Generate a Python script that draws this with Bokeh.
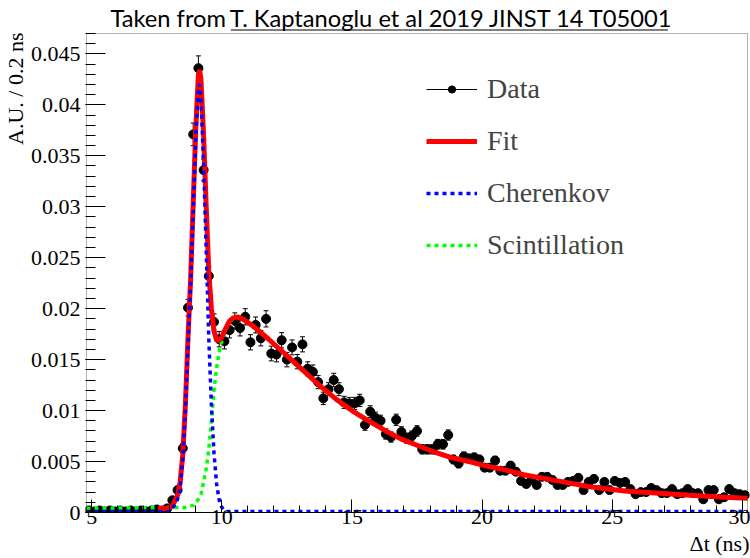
import numpy as np
from bokeh.plotting import figure
from bokeh.models import (ColumnDataSource, Whisker, TeeHead, Legend, LegendItem,
                          Label, BoxAnnotation, FixedTicker, Range1d, Title)
from bokeh.embed import file_html
from bokeh.resources import INLINE

# ---- histogram: time residuals, 0.2 ns bins starting at 4.8 ns ----
bin_start = 4.8
bin_width = 0.2
data_y = [
    0.0002, 0.0001, 0.0002, 0.0001, 0.0002, 0.0001, 0.0002, 0.0001,
    0.0002, 0.0001, 0.0002, 0.0001, 0.0002, 0.0003, 0.0002, 0.0004,
    0.0012, 0.0022, 0.0063, 0.0201, 0.0371, 0.0436, 0.0336, 0.0232,
    0.0187, 0.0170, 0.0168, 0.0179, 0.0188, 0.0181, 0.0192, 0.0167,
    0.0184, 0.0171, 0.0190, 0.0156, 0.0155, 0.0169, 0.0150, 0.0162,
    0.0148, 0.0165, 0.0141, 0.0138, 0.0128, 0.0112, 0.0121, 0.0130,
    0.0121, 0.0108, 0.0107, 0.0107, 0.0110, 0.0086, 0.0099, 0.0093,
    0.0090, 0.0077, 0.0074, 0.0091, 0.0079, 0.0073, 0.0075, 0.0080,
    0.0062, 0.0062, 0.0062, 0.0067, 0.0067, 0.0076, 0.0052, 0.0048,
    0.0055, 0.0053, 0.0054, 0.0052, 0.0044, 0.0044, 0.0051, 0.0041,
    0.0041, 0.0046, 0.0040, 0.0031, 0.0028, 0.0032, 0.0027, 0.0035,
    0.0035, 0.0032, 0.0027, 0.0027, 0.0030, 0.0031, 0.0034, 0.0022,
    0.0030, 0.0033, 0.0022, 0.0030, 0.0022, 0.0031, 0.0029, 0.0030,
    0.0023, 0.0018, 0.0020, 0.0020, 0.0024, 0.0022, 0.0019, 0.0019,
    0.0023, 0.0018, 0.0019, 0.0023, 0.0019, 0.0019, 0.0013, 0.0022,
    0.0022, 0.0013, 0.0015, 0.0023, 0.0019, 0.0018, 0.0017,
]
# effective number of entries behind the normalised histogram (Poisson errors)
n_entries = 30000

# ---- fit components ----
fit_x = [7.55, 7.9, 8.1, 8.2, 8.3, 8.4, 8.5, 8.6, 8.7, 8.8, 8.9, 9.0, 9.1,
         9.15, 9.2, 9.3, 9.4, 9.5, 9.6, 9.7, 9.8, 9.9, 10.0, 10.1, 10.2,
         10.3, 10.45, 10.6, 10.8, 11.2, 11.8, 12.5, 13.1, 13.7, 14.4, 15.0,
         15.7, 16.3, 16.9, 17.6, 18.2, 18.8, 19.5, 20.1, 20.7, 21.6, 22.9,
         24.2, 25.5, 26.8, 28.0, 29.3, 30.2]
fit_y = [0.0004, 0.0004, 0.0006, 0.0012, 0.0017, 0.0030, 0.0057, 0.0106,
         0.0171, 0.0229, 0.0303, 0.0378, 0.0430, 0.0434, 0.0424, 0.0370,
         0.0300, 0.0236, 0.0200, 0.0178, 0.0169, 0.0169, 0.0172, 0.0178,
         0.0183, 0.0188, 0.0191, 0.0192, 0.0190, 0.0183, 0.0170, 0.0154,
         0.0140, 0.0126, 0.0111, 0.0100, 0.0089, 0.0080, 0.0072, 0.0065,
         0.0059, 0.0054, 0.0050, 0.0046, 0.0043, 0.0037, 0.0031, 0.0025,
         0.0021, 0.0019, 0.0017, 0.0015, 0.0014]

cher_x = [4.8, 8.0, 8.2, 8.3, 8.4, 8.5, 8.6, 8.7, 8.8, 8.9, 9.0, 9.1, 9.15,
          9.2, 9.3, 9.4, 9.5, 9.6, 9.7, 9.8, 9.9, 10.0, 10.1, 10.2, 30.2]
cher_y = [0.0001, 0.0001, 0.0008, 0.0013, 0.0025, 0.0052, 0.0100, 0.0165,
          0.0222, 0.0295, 0.0368, 0.0418, 0.0420, 0.0405, 0.0342, 0.0258,
          0.0170, 0.0105, 0.0058, 0.0028, 0.0012, 0.0005, 0.0002, 0.0001,
          0.0001]

scint_x = [4.8, 8.6, 8.9, 9.1, 9.2, 9.3, 9.4, 9.5, 9.6, 9.7, 9.8, 9.9, 10.0,
           10.1, 10.2, 10.3, 10.45, 10.6, 10.8, 11.2, 11.8, 12.5, 13.1,
           13.7, 14.4, 15.0, 15.7, 16.3, 16.9, 17.6, 18.2, 18.8, 19.5, 20.1,
           20.7, 21.6, 22.9, 24.2, 25.5, 26.8, 28.0, 29.3, 30.2]
scint_y = [0.0004, 0.0005, 0.0007, 0.0013, 0.0018, 0.0030, 0.0043, 0.0062,
           0.0090, 0.0120, 0.0142, 0.0158, 0.0168, 0.0176, 0.0182, 0.0187,
           0.0191, 0.0192, 0.0190, 0.0183, 0.0170, 0.0154, 0.0140, 0.0126,
           0.0111, 0.0100, 0.0089, 0.0080, 0.0072, 0.0065, 0.0059, 0.0054,
           0.0050, 0.0046, 0.0043, 0.0037, 0.0031, 0.0025, 0.0021, 0.0019,
           0.0017, 0.0015, 0.0014]

x_ticks = [5, 10, 15, 20, 25, 30]
y_ticks = [0, 0.005, 0.01, 0.015, 0.02, 0.025, 0.03, 0.035, 0.04, 0.045]
y_tick_labels = ["0", "0.005", "0.01", "0.015", "0.02", "0.025", "0.03",
                 "0.035", "0.04", "0.045"]

SERIF = "Liberation Serif"
SANS = "Lato"

# histogram frame [x0, x1] x [0, y1]; the plotting area also reaches up to the
# top of the canvas so the source line above the box can be drawn in it
x0, x1, y1 = 4.8, 30.2, 0.047
PX_X = 26.14            # pixels per ns
PX_Y = 479 / y1         # pixels per A.U.
FRAME_H = 512           # canvas rows covered by the plotting area

centers = bin_start + bin_width * (np.arange(len(data_y)) + 0.5)
vals = np.array(data_y)
errs = np.sqrt(vals / n_entries)
src = ColumnDataSource(dict(x=centers, y=vals, lo=vals - errs, hi=vals + errs))

p = figure(width=750, height=558,
           x_range=Range1d(x0 - 1 / PX_X, x1 + 2 / PX_X),
           y_range=Range1d(0, FRAME_H / PX_Y), output_backend="svg",
           toolbar_location=None, min_border_left=82, min_border_right=1,
           min_border_top=0, min_border_bottom=46)
p.grid.visible = False
p.outline_line_color = None
p.background_fill_color = "white"
p.border_fill_color = "white"

# histogram box
p.add_layout(BoxAnnotation(left=x0, right=x1, bottom=0, top=y1,
                           fill_alpha=0, line_color="black", line_width=1))

# axes, ROOT style: ticks pointing into the box
p.xaxis.ticker = FixedTicker(ticks=x_ticks, minor_ticks=list(range(5, 31)))
p.yaxis.ticker = FixedTicker(ticks=y_ticks,
                             minor_ticks=[k / 1000 for k in range(0, 48)])
p.yaxis.major_label_overrides = {t: s for t, s in zip(y_ticks, y_tick_labels)}
for ax in (p.xaxis[0], p.yaxis[0]):
    ax.major_tick_out = 0
    ax.minor_tick_out = 0
    ax.major_tick_line_color = "black"
    ax.minor_tick_line_color = "black"
    ax.major_label_text_font = SERIF
    ax.major_label_text_font_size = "22px"
    ax.major_label_text_color = "black"
p.xaxis.axis_line_color = "black"
p.yaxis.axis_line_color = None
p.xaxis.major_tick_in = 13
p.xaxis.minor_tick_in = 7
p.yaxis.major_tick_in = 20
p.yaxis.minor_tick_in = 10
p.xaxis.major_label_standoff = -3
p.yaxis.major_label_standoff = 5

# axis titles
p.add_layout(Title(text="\u0394t (ns)", align="right", offset=0, standoff=4,
                   text_font=SERIF, text_font_size="22px",
                   text_font_style="normal", text_color="black"), "below")
p.add_layout(Title(text="A.U. / 0.2 ns", align="right", offset=32, standoff=0,
                   text_font=SERIF, text_font_size="22px",
                   text_font_style="normal", text_color="black"), "left")

# data with error bars
whisk = Whisker(base="x", lower="lo", upper="hi", source=src,
                line_color="black", line_width=1,
                lower_head=TeeHead(size=5, line_color="black", line_width=1),
                upper_head=TeeHead(size=5, line_color="black", line_width=1))
p.add_layout(whisk)
pts = p.scatter("x", "y", source=src, size=9, color="black")
data_line = p.line([np.nan], [np.nan], line_color="black", line_width=1)

# fit and its components
scint = p.line(scint_x, scint_y, line_color="#00ff00", line_width=3.5,
               line_dash="4 4")
fit = p.line(fit_x, fit_y, line_color="#ff0000", line_width=5)
cher = p.line(cher_x, cher_y, line_color="#0000ff", line_width=3.5,
              line_dash="4 4")

legend = Legend(items=[
    LegendItem(label="Data", renderers=[data_line, pts]),
    LegendItem(label="Fit", renderers=[fit]),
    LegendItem(label="Cherenkov", renderers=[cher]),
    LegendItem(label="Scintillation", renderers=[scint]),
], location=(341, 251))
legend.label_text_font = SERIF
legend.label_text_font_size = "28px"
legend.glyph_width = 51
legend.glyph_height = 18
legend.label_standoff = 10
legend.spacing = 20
legend.padding = 0
legend.margin = 0
legend.border_line_color = None
legend.background_fill_alpha = 0
p.add_layout(legend)


def at_row(row):
    """Data y of a canvas row (pixels from the top)."""
    return (FRAME_H - row) / PX_Y


def at_col(col):
    """Data x of a canvas column (pixels from the left)."""
    return x0 + (col - 83) / PX_X


# source line above the box, the reference part underlined
p.add_layout(Label(x=at_col(107), y=at_row(17), text="Taken from",
                   text_align="left", text_baseline="alphabetic",
                   text_font=SANS, text_font_size="23.7px", text_color="black"))
p.add_layout(Label(x=at_col(227), y=at_row(17),
                   text="T. Kaptanoglu et al 2019 JINST 14 T05001",
                   text_align="left", text_baseline="alphabetic",
                   text_font=SANS, text_font_size="23.7px", text_color="black"))
p.add_layout(BoxAnnotation(left=at_col(228), right=at_col(667),
                           bottom=at_row(30), top=at_row(29),
                           fill_color="black", fill_alpha=1, line_alpha=0))

open("out.html", "w").write(file_html(p, INLINE))
